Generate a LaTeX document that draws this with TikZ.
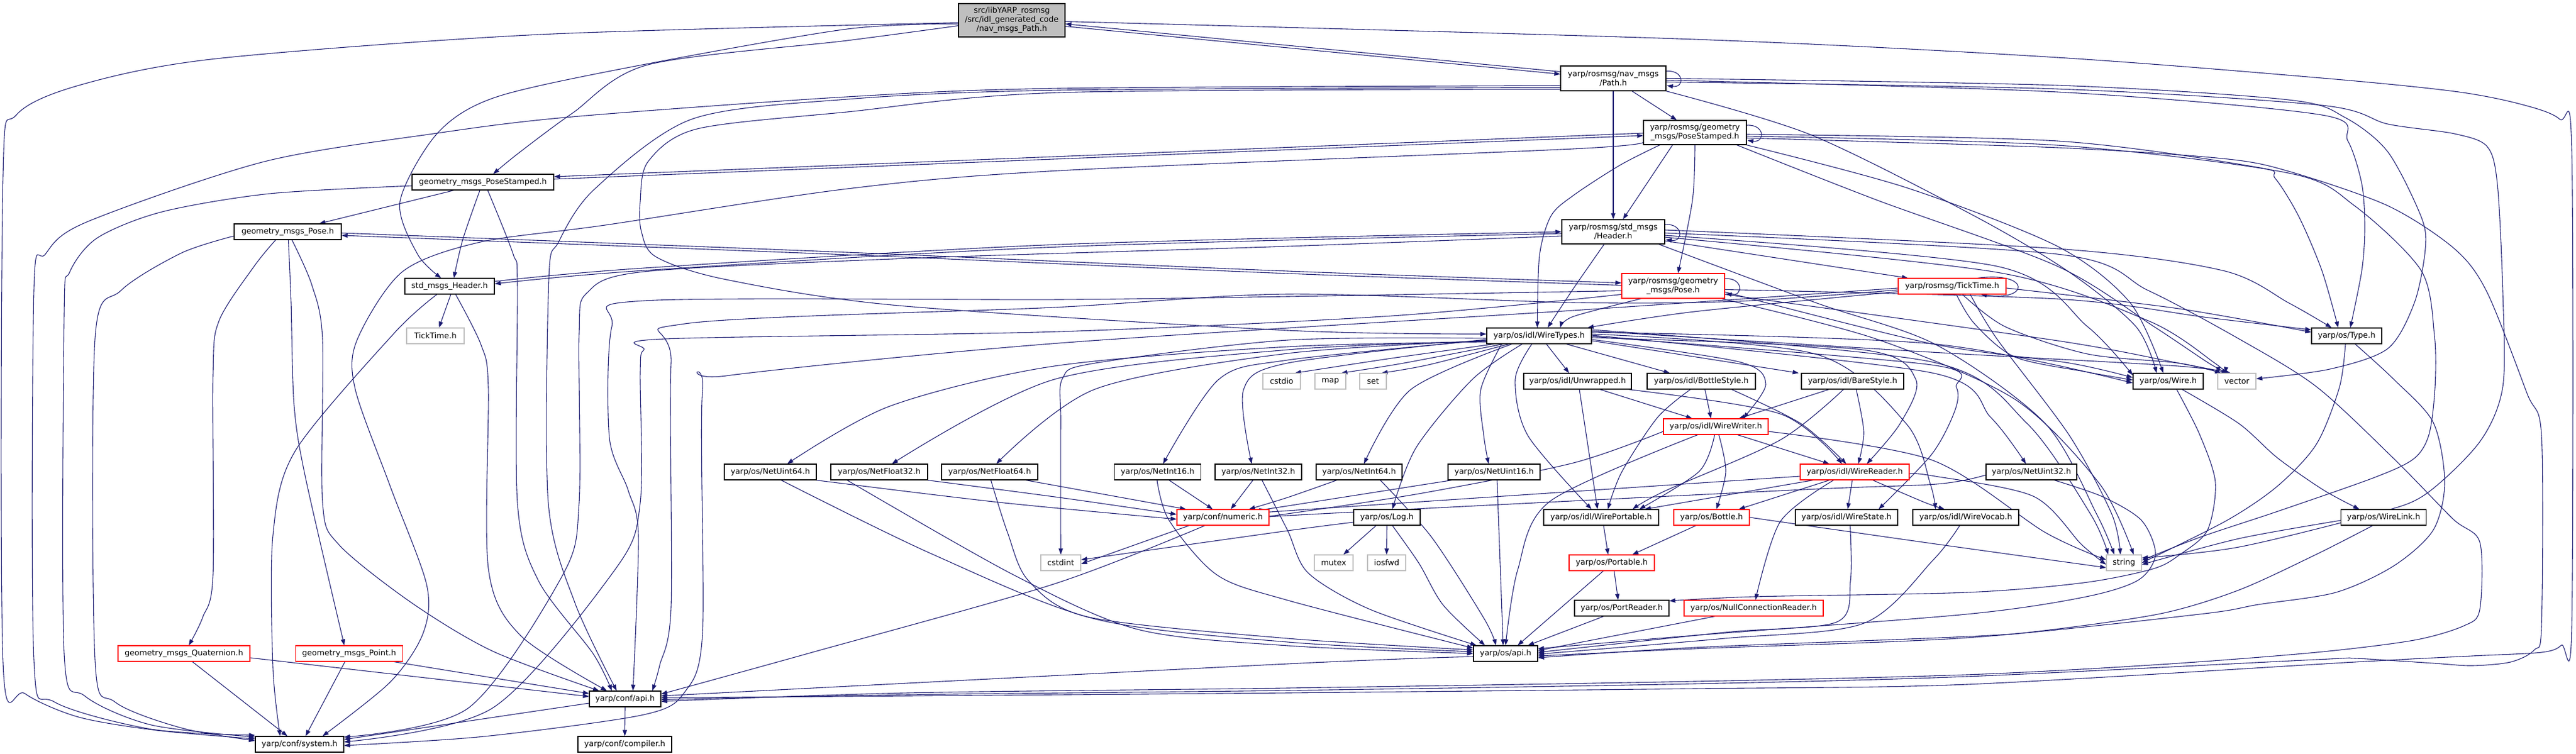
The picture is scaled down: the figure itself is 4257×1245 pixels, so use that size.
\documentclass[tikz,border=0pt]{standalone}
\usepackage{fontspec}
\newfontfamily\dv{DejaVu Sans}
\usetikzlibrary{arrows.meta,calc}
\definecolor{navy}{HTML}{191970}
\definecolor{boxgray}{HTML}{BFBFBF}
\pgfdeclarelayer{bg}
\pgfsetlayers{bg,main}
\begin{document}
\begin{tikzpicture}[x=1pt,y=-1pt,
  nbox/.style={draw=black, line width=1.1pt, fill=white, inner sep=0pt, align=center,
    minimum height=26pt, font=\dv\fontsize{13pt}{15pt}\selectfont},
  gbox/.style={nbox, draw=boxgray},
  rbox/.style={nbox, draw=red},
  rootbox/.style={nbox, fill=boxgray},
  lnk/.style={draw=navy, line width=1.1pt, -{Triangle[length=10pt,width=7pt]}}]
\path[use as bounding box] (0,0) rectangle (4257,1245);
% ---------------- nodes
\node[rootbox, minimum width=176pt, minimum height=55pt] (root) at (1672,33.5) {src/libYARP\_rosmsg\\/src/idl\_generated\_code\\/nav\_msgs\_Path.h};
\node[nbox, minimum width=174pt, minimum height=41pt] (pth) at (2666,129.5) {yarp/rosmsg/nav\_msgs\\/Path.h};
\node[nbox, minimum width=170pt, minimum height=40pt] (rps) at (2801,219) {yarp/rosmsg/geometry\\\_msgs/PoseStamped.h};
\node[nbox, minimum width=234pt] (gps) at (798,301) {geometry\_msgs\_PoseStamped.h};
\node[nbox, minimum width=177pt] (gp) at (475.5,383) {geometry\_msgs\_Pose.h};
\node[nbox, minimum width=170pt, minimum height=40pt] (rhdr) at (2666,383) {yarp/rosmsg/std\_msgs\\/Header.h};
\node[nbox, minimum width=148pt] (shdr) at (743,473) {std\_msgs\_Header.h};
\node[rbox, minimum width=170pt, minimum height=41pt] (rpose) at (2765,472.5) {yarp/rosmsg/geometry\\\_msgs/Pose.h};
\node[rbox, minimum width=178pt] (rtt) at (3226,473) {yarp/rosmsg/TickTime.h};
\node[gbox, minimum width=95pt] (tt) at (719.5,555) {TickTime.h};
\node[nbox, minimum width=173pt] (wt) at (2543.5,555) {yarp/os/idl/WireTypes.h};
\node[nbox, minimum width=116pt] (typ) at (3878,555) {yarp/os/Type.h};
\node[gbox, minimum width=62pt] (cstdio) at (2118,630) {cstdio};
\node[gbox, minimum width=51pt] (nmap) at (2198.5,630) {map};
\node[gbox, minimum width=44pt] (nset) at (2269,630) {set};
\node[nbox, minimum width=178pt] (unw) at (2607,630) {yarp/os/idl/Unwrapped.h};
\node[nbox, minimum width=179pt] (bsty) at (2811.5,630) {yarp/os/idl/BottleStyle.h};
\node[nbox, minimum width=169pt] (bare) at (3061.5,630) {yarp/os/idl/BareStyle.h};
\node[nbox, minimum width=116pt] (wire) at (3583,630) {yarp/os/Wire.h};
\node[gbox, minimum width=63pt] (vec) at (3696.5,630) {vector};
\node[rbox, minimum width=173pt] (ww) at (2835.5,705) {yarp/os/idl/WireWriter.h};
\node[nbox, minimum width=152pt] (nu64) at (1273,780) {yarp/os/NetUint64.h};
\node[nbox, minimum width=160pt] (nf32) at (1453,780) {yarp/os/NetFloat32.h};
\node[nbox, minimum width=159pt] (nf64) at (1635.5,780) {yarp/os/NetFloat64.h};
\node[nbox, minimum width=143pt] (ni16) at (1913,780) {yarp/os/NetInt16.h};
\node[nbox, minimum width=143pt] (ni32) at (2079.5,780) {yarp/os/NetInt32.h};
\node[nbox, minimum width=142pt] (ni64) at (2246,780) {yarp/os/NetInt64.h};
\node[nbox, minimum width=152pt] (nu16) at (2469,780) {yarp/os/NetUint16.h};
\node[rbox, minimum width=180pt] (wr) at (3065,780) {yarp/os/idl/WireReader.h};
\node[nbox, minimum width=150pt] (nu32) at (3357,780) {yarp/os/NetUint32.h};
\node[rbox, minimum width=152pt] (numeric) at (2021,855) {yarp/conf/numeric.h};
\node[nbox, minimum width=110pt] (logh) at (2292,855) {yarp/os/Log.h};
\node[nbox, minimum width=190pt] (wp) at (2646,855) {yarp/os/idl/WirePortable.h};
\node[rbox, minimum width=125pt] (bottle) at (2828.5,855) {yarp/os/Bottle.h};
\node[nbox, minimum width=169pt] (ws) at (3051.5,855) {yarp/os/idl/WireState.h};
\node[nbox, minimum width=175pt] (wv) at (3248.5,855) {yarp/os/idl/WireVocab.h};
\node[nbox, minimum width=141pt] (wl) at (3939,855) {yarp/os/WireLink.h};
\node[gbox, minimum width=66pt] (cstdint) at (1753,930) {cstdint};
\node[gbox, minimum width=64pt] (mutex) at (2204,930) {mutex};
\node[gbox, minimum width=63pt] (iosfwd) at (2291.5,930) {iosfwd};
\node[rbox, minimum width=141pt] (portable) at (2663.5,930) {yarp/os/Portable.h};
\node[gbox, minimum width=58pt] (str) at (3510,930) {string};
\node[nbox, minimum width=156pt] (pr) at (2680,1005) {yarp/os/PortReader.h};
\node[rbox, minimum width=230pt] (ncr) at (2898,1005) {yarp/os/NullConnectionReader.h};
\node[rbox, minimum width=218pt] (quat) at (304,1080) {geometry\_msgs\_Quaternion.h};
\node[rbox, minimum width=177pt] (pnt) at (577,1080) {geometry\_msgs\_Point.h};
\node[nbox, minimum width=106pt] (osapi) at (2488,1080) {yarp/os/api.h};
\node[nbox, minimum width=118pt] (capi) at (1033,1155) {yarp/conf/api.h};
\node[nbox, minimum width=146pt] (sys) at (495,1230) {yarp/conf/system.h};
\node[nbox, minimum width=155pt] (comp) at (1032.5,1230) {yarp/conf/compiler.h};
% ---------------- edges
\begin{pgfonlayer}{bg}
\fill[white] (0,0) rectangle (4257,1245);
% root
\draw[lnk] plot[smooth] coordinates {($(root.west)+(0,4)$) (893,57) (357,97) (134,140) (27,190) (5,290) (5,1095) (41,1146) (130,1185) (260,1207) ($(sys.west)+(0,-9)$)};
\draw[lnk] plot[smooth] coordinates {($(root.west)+(0,6)$) (1400,48) (1062,107) (821,160) (723,220) (661,333) (690,420) ($(shdr.north)+(-14,0)$)};
\draw[lnk] plot[smooth] coordinates {($(root.west)+(0,9)$) (1400,67) (1071,107) (946,187) (857,253) ($(gps.north)+(17,0)$)};
\draw[lnk] ($(root.east)+(0,10)$) -- ($(pth.west)+(0,-7)$);
\draw[lnk] ($(pth.west)+(0,-11)$) -- ($(root.east)+(0,6)$);
\draw[lnk] plot[smooth] coordinates {($(root.east)+(0,2)$) (2800,65) (3400,95) (3837,129) (4056,151) (4165,172) (4230,197) (4250,250) (4250,1034) (4233,1066) (4200,1078) (4085,1084) (3892,1094) (3250,1131) (2800,1138) (2128,1145) (1500,1150) ($(capi.east)+(0,-2)$)};
% gps
\draw[lnk] ($(gps.east)+(0,-5)$) -- ($(rps.west)+(0,5)$);
\draw[lnk] ($(rps.west)+(0,1)$) -- ($(gps.east)+(0,-9)$);
\draw[lnk] ($(gps.south)+(-48,0)$) -- ($(gp.north)+(52,0)$);
\draw[lnk] plot[smooth] coordinates {($(gps.south)+(-5,0)$) (765,395) ($(shdr.north)+(7,0)$)};
\draw[lnk] plot[smooth] coordinates {($(gps.west)+(0,6)$) (446,320) (268,350) (161,393) (115,450) (106,520) (106,1080) (140,1150) (250,1198) ($(sys.west)+(0,-12)$)};
\draw[lnk] plot[smooth] coordinates {($(gps.south)+(8,0)$) (848,420) (855,470) (855,830) (890,960) (980,1080) ($(capi.north)+(-22,0)$)};
% gp
\draw[lnk] plot[smooth] coordinates {($(gp.west)+(0,7)$) (300,418) (200,480) (157,560) (157,1090) (190,1160) (300,1203) ($(sys.west)+(0,-6)$)};
\draw[lnk] plot[smooth] coordinates {($(gp.south)+(-20,0)$) (420,440) (362,530) (352,620) (352,950) (335,1020) ($(quat.north)+(8,0)$)};
\draw[lnk] plot[smooth] coordinates {($(gp.south)+(1,0)$) (481,500) (486,670) (505,790) ($(pnt.north)+(-8,0)$)};
\draw[lnk] plot[smooth] coordinates {($(gp.south)+(7,0)$) (515,470) (533,560) (533,830) (560,900) (680,996) (814,1076) ($(capi.north)+(-43,0)$)};
\draw[lnk] plot[smooth] coordinates {($(gp.east)+(0,2)$) (1400,417) (2128,448) ($(rpose.west)+(0,-5)$)};
\draw[lnk] plot[smooth] coordinates {($(rpose.west)+(0,-1)$) (2128,452) (1400,421) ($(gp.east)+(0,6)$)};
% shdr
\draw[lnk] plot[smooth] coordinates {($(shdr.east)+(0,-8)$) (1064,443) (1750,404) (rhdr.west)};
\draw[lnk] plot[smooth] coordinates {($(rhdr.west)+(0,3)$) (1750,408) (1064,447) ($(shdr.east)+(0,-4)$)};
\draw[lnk] ($(shdr.south)+(2,0)$) -- ($(tt.north)+(6,0)$);
\draw[lnk] plot[smooth] coordinates {($(shdr.south)+(-21,0)$) (651,551) (488,745) (451,885) (451,1103) ($(sys.north)+(-32,0)$)};
\draw[lnk] plot[smooth] coordinates {($(shdr.south)+(10,0)$) (795,570) (807,640) (807,939) (860,1050) ($(capi.north)+(-30,0)$)};
% quat, point, capi
\draw[lnk] ($(quat.south)+(14,0)$) -- ($(sys.north)+(-20,0)$);
\draw[lnk] ($(quat.east)+(0,7)$) -- ($(capi.west)+(0,-4)$);
\draw[lnk] ($(pnt.south)+(-7,0)$) -- ($(sys.north)+(10,0)$);
\draw[lnk] ($(pnt.south)+(74,0)$) -- ($(capi.west)+(0,-9)$);
\draw[lnk] ($(capi.west)+(0,7)$) -- ($(sys.east)+(0,-8)$);
\draw[lnk] (capi.south) -- (comp.north);
% path
\draw[lnk] ($(pth.east)+(0,-12)$) .. controls +(30,-2) and +(30,4) .. ($(pth.east)+(1,12)$);
\draw[lnk] (pth.south) -- (rhdr.north);
\draw[lnk] ($(pth.south)+(31,0)$) -- ($(rps.north)+(-30,0)$);
\draw[lnk] plot[smooth] coordinates {($(pth.west)+(0,12)$) (1750,146) (1400,160) (946,193) (723,220) (437,267) (143,367) (75,420) (56,480) (56,1090) (90,1160) (250,1205) ($(sys.west)+(0,-15)$)};
\draw[lnk] plot[smooth] coordinates {($(pth.west)+(0,15)$) (1750,149) (1400,164) (1143,197) (982,313) (923,400) (907,460) (906,830) (950,996) ($(capi.north)+(-14,0)$)};
\draw[lnk] plot[smooth] coordinates {($(pth.west)+(0,18)$) (1750,153) (1400,185) (1152,213) (1071,267) (1058,333) (1060,383) (1085,425) (1200,462) (1485,505) (2128,546) ($(wt.west)+(0,-3)$)};
\draw[lnk] plot[smooth] coordinates {($(pth.east)+(0,3)$) (3400,152) (3837,190) (3880,233) (3903,304) (3908,376) (3903,447) ($(typ.north)+(6,0)$)};
\draw[lnk] plot[smooth] coordinates {(pth.east) (3400,141) (3782,165) (3875,194) (3946,251) (4001,358) (4008,411) (3990,500) (3946,576) (3850,610) ($(vec.east)+(0,-4)$)};
\draw[lnk] plot[smooth] coordinates {($(pth.east)+(0,6)$) (3400,147) (3837,174) (3946,205) (4056,221) (4110,242) (4127,304) (4136,483) (4136,639) (4098,730) (4008,817) (3924,849) (3700,904) ($(str.east)+(0,-8)$)};
\draw[lnk] plot[smooth] coordinates {(pth.south east) (2993,223) (3263,357) (3420,450) (3530,540) ($(wire.north)+(-19,0)$)};
% rps
\draw[lnk] ($(rps.east)+(0,-12)$) .. controls +(30,-2) and +(30,4) .. ($(rps.east)+(1,13)$);
\draw[lnk] ($(rps.south)+(-37,0)$) -- ($(rhdr.north)+(16,0)$);
\draw[lnk] plot[smooth] coordinates {(rps.south) (2797,330) ($(rpose.north)+(8,0)$)};
\draw[lnk] plot[smooth] coordinates {($(rps.south)+(-58,0)$) (2677,273) (2600,323) (2563,357) (2544,423) ($(wt.north)+(-3,0)$)};
\draw[lnk] plot[smooth] coordinates {($(rps.west)+(0,15)$) (2600,246) (1750,282) (1400,312) (1000,372) (794,400) (665,449) (590,562) (587,643) (645,804) (705,966) (699,1047) (645,1127) ($(sys.north)+(38,0)$)};
\draw[lnk] plot[smooth] coordinates {($(rps.east)+(0,3)$) (3400,233) (3728,276) (3760,295) (3799,358) (3837,447) ($(typ.north)+(-14,0)$)};
\draw[lnk] plot[smooth] coordinates {($(rps.east)+(0,6)$) (3400,240) (3782,286) (3891,340) (4001,447) (4023,554) (4024,640) (4014,718) (3989,758) (3924,789) (3764,845) (3635,888) ($(str.east)+(0,-4)$)};
\draw[lnk] plot[smooth] coordinates {($(rps.east)+(0,9)$) (3400,244) (3673,262) (3782,283) (3946,340) (4056,411) (4110,483) (4176,650) (4200,720) (4200,1034) (4188,1074) (4149,1094) (4085,1100) (4021,1096) (3892,1088) (3828,1090) (3250,1118) (2800,1130) (2128,1141) (1500,1148) ($(capi.east)+(0,1)$)};
\draw[lnk] plot[smooth] coordinates {($(rps.south)+(69,0)$) (3100,330) (3400,440) (3560,540) (3650,600) ($(vec.north)+(-15,0)$)};
\draw[lnk] plot[smooth] coordinates {($(rps.south)+(85,0)$) (3150,310) (3400,407) (3520,500) ($(wire.north)+(-8,0)$)};
% rhdr
\draw[lnk] ($(rhdr.east)+(0,-12)$) .. controls +(30,-2) and +(30,4) .. ($(rhdr.east)+(1,13)$);
\draw[lnk] ($(rhdr.east)+(0,15)$) -- ($(rtt.north)+(-73,0)$);
\draw[lnk] plot[smooth] coordinates {($(rhdr.south)+(-15,0)$) (2600,477) ($(wt.north)+(14,0)$)};
\draw[lnk] plot[smooth] coordinates {($(rhdr.west)+(0,7)$) (2128,407) (1500,427) (1064,449) (970,484) (957,551) (957,831) (930,950) (774,1170) ($(sys.east)+(0,-12)$)};
\draw[lnk] plot[smooth] coordinates {($(rhdr.east)+(0,2)$) (3400,420) (3550,480) (3700,560) (3828,639) (3956,758) (4053,857) (4098,896) (4098,1007) (4072,1034) (3989,1058) (3828,1078) (3571,1098) (3250,1115) (2800,1126) (2128,1137) (1500,1145) ($(capi.east)+(0,4)$)};
\draw[lnk] plot[smooth] coordinates {($(rhdr.east)+(0,-3)$) (3400,411) (3673,447) (3783,501) ($(typ.north)+(-25,0)$)};
\draw[lnk] plot[smooth] coordinates {($(rhdr.east)+(0,6)$) (3300,440) (3450,540) ($(wire.west)+(0,-10)$)};
\draw[lnk] plot[smooth] coordinates {($(rhdr.east)+(0,9)$) (3300,450) (3550,530) (3660,600) ($(vec.north)+(-20,0)$)};
\draw[lnk] plot[smooth] coordinates {($(rhdr.south)+(75,0)$) (3000,500) (3200,570) (3380,700) (3465,850) ($(str.north)+(-16,0)$)};
% rpose
\draw[lnk] ($(rpose.east)+(0,-12)$) .. controls +(30,-2) and +(30,4) .. ($(rpose.east)+(1,13)$);
\draw[lnk] plot[smooth] coordinates {($(rpose.south)+(-53,0)$) (2600,523) ($(wt.north)+(35,0)$)};
\draw[lnk] plot[smooth] coordinates {($(rpose.west)+(0,8)$) (2128,490) (1750,495) (1064,497) (1011,540) (1007,723) (1038,810) (1055,885) ($(capi.north)+(13,0)$)};
\draw[lnk] plot[smooth] coordinates {($(rpose.west)+(0,14)$) (2300,522) (1750,548) (1100,560) (1064,578) (1058,615) (1058,831) (1018,939) (814,1170) ($(sys.east)+(0,-4)$)};
\draw[lnk] plot[smooth] coordinates {($(rpose.east)+(0,6)$) (3400,494) (3650,525) ($(typ.west)+(0,-10)$)};
\draw[lnk] plot[smooth] coordinates {($(rpose.east)+(0,10)$) (3192,568) (3420,600) ($(wire.west)+(0,-6)$)};
\draw[lnk] plot[smooth] coordinates {($(rpose.east)+(0,14)$) (3400,563) (3600,600) ($(vec.north)+(-10,0)$)};
\draw[lnk] plot[smooth] coordinates {($(rpose.south)+(80,0)$) (3100,560) (3330,660) (3470,800) ($(str.north)+(16,0)$)};
% rtt
\draw[lnk] ($(rtt.north)+(42,0)$) .. controls (3355,448) and (3355,498) .. ($(rtt.south)+(47,0)$);
\draw[lnk] plot[smooth] coordinates {($(rtt.west)+(0,9)$) (2800,515) ($(wt.north)+(80,0)$)};
\draw[lnk] plot[smooth] coordinates {($(rtt.west)+(0,3)$) (2600,513) (1750,567) (1200,621) (1161,645) (1161,1046) (1132,1143) (1064,1181) (800,1217) ($(sys.east)+(0,2)$)};
\draw[lnk] plot[smooth] coordinates {($(rtt.west)+(0,6)$) (2870,498) (2600,500) (2128,486) (1742,508) (1132,535) (1109,600) (1109,1003) (1090,1100) ($(capi.north)+(45,0)$)};
\draw[lnk] plot[smooth] coordinates {($(rtt.east)+(0,3)$) (3600,510) ($(typ.west)+(0,-6)$)};
\draw[lnk] plot[smooth] coordinates {($(rtt.south)+(7,0)$) (3263,535) (3330,590) (3450,615) ($(wire.west)+(0,-2)$)};
\draw[lnk] plot[smooth] coordinates {($(rtt.south)+(17,0)$) (3314,540) (3450,585) (3600,600) ($(vec.north)+(-26,0)$)};
\draw[lnk] plot[smooth] coordinates {($(rtt.south)+(30,0)$) (3300,560) (3420,720) (3490,850) ($(str.north)+(-6,0)$)};
% WireTypes
\draw[lnk] plot[smooth] coordinates {($(wt.south)+(-75,0)$) (2300,592) ($(cstdio.north)+(22,0)$)};
\draw[lnk] plot[smooth] coordinates {($(wt.south)+(-60,0)$) (2320,600) ($(nmap.north)+(18,0)$)};
\draw[lnk] plot[smooth] coordinates {($(wt.south)+(-50,0)$) (2360,603) ($(nset.north)+(14,0)$)};
\draw[lnk] ($(wt.south)+(12,0)$) -- ($(unw.north)+(-14,0)$);
\draw[lnk] ($(wt.south)+(45,0)$) -- ($(bsty.north)+(-52,0)$);
\draw[lnk] ($(wt.east)+(0,8)$) -- ($(bare.north)+(-89,0)$);
\draw[lnk] plot[smooth] coordinates {($(wt.east)+(0,6)$) (2874,598) (2918,635) ($(ww.north)+(45,0)$)};
\draw[lnk] plot[smooth] coordinates {($(wt.east)+(0,3)$) (3078,578) (3166,627) (3140,700) ($(wr.north)+(20,0)$)};
\draw[lnk] plot[smooth] coordinates {($(wt.east)+(0,1)$) (3192,603) (3233,640) (3230,680) (3192,751) ($(ws.north)+(53,0)$)};
\draw[lnk] plot[smooth] coordinates {($(wt.east)+(0,-1)$) (3192,616) (3290,690) ($(nu32.north)+(-9,0)$)};
\draw[lnk] plot[smooth] coordinates {($(wt.east)+(0,-3)$) (3000,585) (3150,700) (3190,800) ($(wv.north)+(-50,0)$)};
\draw[lnk] plot[smooth] coordinates {($(wt.south)+(-45,0)$) (2331,644) ($(ni64.north)+(8,0)$)};
\draw[lnk] plot[smooth] coordinates {($(wt.south)+(-62,0)$) (2447,644) (2452,720) ($(nu16.north)+(-9,0)$)};
\draw[lnk] plot[smooth] coordinates {($(wt.south)+(-28,0)$) (2433,627) (2340,740) ($(logh.north)+(9,0)$)};
\draw[lnk] plot[smooth] coordinates {($(wt.south)+(-12,0)$) (2504,627) (2525,720) ($(wp.north)+(-16,0)$)};
\draw[lnk] plot[smooth] coordinates {($(wt.west)+(0,10)$) (2128,573) (1742,605) (1471,671) ($(nu64.north)+(28,0)$)};
\draw[lnk] plot[smooth] coordinates {($(wt.west)+(0,9)$) (2128,578) (1742,627) ($(nf32.north)+(21,0)$)};
\draw[lnk] plot[smooth] coordinates {($(wt.west)+(0,8)$) (2128,584) (1810,643) ($(nf64.north)+(11,0)$)};
\draw[lnk] plot[smooth] coordinates {($(wt.west)+(0,7)$) (2128,595) (2014,627) ($(ni16.north)+(9,0)$)};
\draw[lnk] plot[smooth] coordinates {($(wt.west)+(0,6)$) (2128,600) (2055,644) ($(ni32.north)+(-11,0)$)};
\draw[lnk] plot[smooth] coordinates {($(wt.west)+(0,4)$) (2128,562) (1810,600) (1756,625) (1753,700) (cstdint.north)};
\draw[lnk] plot[smooth] coordinates {($(wt.east)+(0,-6)$) (3192,568) ($(wire.west)+(0,3)$)};
\draw[lnk] plot[smooth] coordinates {($(wt.east)+(0,-8)$) (3192,582) (3600,605) ($(vec.north)+(-30,0)$)};
\draw[lnk] plot[smooth] coordinates {($(wt.east)+(0,-10)$) (3192,598) (3350,700) (3455,850) ($(str.north)+(-26,0)$)};
% idl cluster
\draw[lnk] ($(unw.south)+(37,0)$) -- ($(ww.north)+(-39,0)$);
\draw[lnk] ($(unw.south)+(3,0)$) -- ($(wp.north)+(-6,0)$);
\draw[lnk] plot[smooth] coordinates {($(unw.south)+(84,0)$) (2942,684) ($(wr.north)+(-21,0)$)};
\draw[lnk] ($(bsty.south)+(6,0)$) -- ($(ww.north)+(-8,0)$);
\draw[lnk] plot[smooth] coordinates {($(bsty.south)+(-18,0)$) (2739,690) (2680,780) ($(wp.north)+(11,0)$)};
\draw[lnk] plot[smooth] coordinates {($(bsty.south)+(50,0)$) (2976,700) ($(wr.north)+(-14,0)$)};
\draw[lnk] ($(bare.south)+(-39,0)$) -- ($(ww.north)+(38,0)$);
\draw[lnk] plot[smooth] coordinates {($(bare.south)+(6,0)$) (3080,714) ($(wr.north)+(6,0)$)};
\draw[lnk] plot[smooth] coordinates {($(bare.south)+(-15,0)$) (2942,727) (2750,812) ($(wp.north)+(52,0)$)};
\draw[lnk] ($(ww.south)+(36,0)$) -- ($(wr.north)+(-42,0)$);
\draw[lnk] plot[smooth] coordinates {($(ww.south)+(-2,0)$) (2808,779) ($(wp.north)+(63,0)$)};
\draw[lnk] plot[smooth] coordinates {($(ww.south)+(5,0)$) (2852,779) ($(bottle.north)+(8,0)$)};
\draw[lnk] plot[smooth] coordinates {($(ww.south)+(-30,0)$) (2562,828) (2508,942) (osapi.north)};
\draw[lnk] plot[smooth] coordinates {($(ww.west)+(0,8)$) (2600,765) (2350,815) (2128,849) ($(numeric.east)+(0,-3)$)};
\draw[lnk] plot[smooth] coordinates {($(ww.east)+(0,8)$) (3192,760) (3380,880) ($(str.west)+(0,-5)$)};
\draw[lnk] ($(wr.south)+(-69,0)$) -- ($(wp.north)+(72,0)$);
\draw[lnk] ($(wr.south)+(-42,0)$) -- ($(bottle.north)+(45,0)$);
\draw[lnk] ($(wr.south)+(-4,0)$) -- ($(ws.north)+(2,0)$);
\draw[lnk] plot[smooth] coordinates {($(wr.south)+(30,0)$) (3180,830) ($(wv.north)+(-35,0)$)};
\draw[lnk] plot[smooth] coordinates {($(wr.south)+(-35,0)$) (2942,862) ($(ncr.north)+(3,0)$)};
\draw[lnk] plot[smooth] coordinates {($(wr.west)+(0,7)$) (2128,844) ($(numeric.east)+(0,-8)$)};
\draw[lnk] plot[smooth] coordinates {($(wr.east)+(0,3)$) (3192,786) (3360,820) (3440,900) ($(str.west)+(0,3)$)};
\draw[lnk] ($(wp.south)+(4,0)$) -- ($(portable.north)+(-6,0)$);
\draw[lnk] ($(bottle.south)+(-26,0)$) -- ($(portable.north)+(34,0)$);
\draw[lnk] plot[smooth] coordinates {(bottle.east) (3192,898) ($(str.west)+(0,8)$)};
\draw[lnk] ($(portable.south)+(4,0)$) -- ($(pr.north)+(-6,0)$);
\draw[lnk] ($(portable.south)+(-14,0)$) -- ($(osapi.north)+(20,0)$);
\draw[lnk] ($(pr.south)+(-30,0)$) -- ($(osapi.north)+(37,0)$);
\draw[lnk] ($(ncr.south)+(-64,0)$) -- ($(osapi.east)+(0,-5)$);
\draw[lnk] plot[smooth] coordinates {($(ws.south)+(6,0)$) (3058,960) (3035,1028) (2850,1045) ($(osapi.east)+(0,-2)$)};
\draw[lnk] plot[smooth] coordinates {($(wv.south)+(-10,0)$) (3195,925) (3080,1030) (2850,1055) ($(osapi.east)+(0,1)$)};
\draw[lnk] ($(logh.south)+(-18,0)$) -- ($(mutex.north)+(16,0)$);
\draw[lnk] (logh.south) -- (iosfwd.north);
\draw[lnk] plot[smooth] coordinates {($(logh.south)+(9,0)$) (2345,931) (2385,1000) ($(osapi.north)+(-34,0)$)};
\draw[lnk] plot[smooth] coordinates {($(logh.west)+(0,8)$) (2128,877) ($(cstdint.east)+(0,-5)$)};
\draw[lnk] ($(numeric.south)+(-56,0)$) -- ($(cstdint.east)+(0,2)$);
\draw[lnk] plot[smooth] coordinates {($(numeric.south)+(-30,0)$) (1742,965) (1335,1080) ($(capi.east)+(0,-8)$)};
\draw[lnk] plot[smooth] coordinates {($(osapi.west)+(0,5)$) (2128,1097) ($(capi.east)+(0,-5)$)};
% Net* headers
\draw[lnk] plot[smooth] coordinates {($(nu64.south)+(76,0)$) (1650,830) ($(numeric.west)+(0,3)$)};
\draw[lnk] plot[smooth] coordinates {($(nf32.south)+(80,0)$) (1750,822) ($(numeric.west)+(0,-5)$)};
\draw[lnk] ($(nf64.south)+(60,0)$) -- ($(numeric.north)+(-61,0)$);
\draw[lnk] ($(ni16.south)+(19,0)$) -- ($(numeric.north)+(-17,0)$);
\draw[lnk] ($(ni32.south)+(-9,0)$) -- ($(numeric.north)+(13,0)$);
\draw[lnk] plot[smooth] coordinates {($(ni64.south)+(-37,0)$) (2128,822) ($(numeric.north)+(43,0)$)};
\draw[lnk] plot[smooth] coordinates {($(nu16.south)+(-70,0)$) (2128,836) ($(numeric.north)+(70,0)$)};
\draw[lnk] plot[smooth] coordinates {($(nu32.west)+(0,5)$) (3200,800) (2960,810) (2128,852) ($(numeric.east)+(0,4)$)};
\draw[lnk] plot[smooth] coordinates {($(nu64.south)+(18,0)$) (1539,915) (1810,1023) (2128,1061) ($(osapi.west)+(0,-3)$)};
\draw[lnk] plot[smooth] coordinates {($(nf32.south)+(-53,0)$) (1675,950) (1880,1040) (2128,1067) (osapi.west)};
\draw[lnk] plot[smooth] coordinates {($(nf64.south)+(2,0)$) (1665,880) (1700,960) (1800,1020) (2128,1055) ($(osapi.west)+(0,-6)$)};
\draw[lnk] plot[smooth] coordinates {($(ni16.south)+(-1,0)$) (1932,860) (2011,950) (2128,992) ($(osapi.west)+(0,-9)$)};
\draw[lnk] plot[smooth] coordinates {($(ni32.south)+(6,0)$) (2128,877) (2162,947) (2264,1007) ($(osapi.north)+(-48,0)$)};
\draw[lnk] plot[smooth] coordinates {($(ni64.south)+(35,0)$) (2366,888) (2453,1023) ($(osapi.north)+(-16,0)$)};
\draw[lnk] ($(nu16.south)+(5,0)$) -- ($(osapi.north)+(-4,0)$);
\draw[lnk] plot[smooth] coordinates {($(nu32.south)+(38,0)$) (3475,821) (3539,860) (3562,916) (3533,959) (3443,987) (3250,1015) (2800,1050) ($(osapi.east)+(0,-8)$)};
% Type, Wire, WireLink
\draw[lnk] plot[smooth] coordinates {($(typ.south)+(-2,0)$) (3866,640) (3828,734) (3764,803) (3680,860) (str.east)};
\draw[lnk] plot[smooth] coordinates {($(typ.south)+(14,0)$) (3956,627) (4021,698) (4040,797) (4021,876) (3956,935) (3860,979) (3732,999) (3635,1015) (3250,1054) (2800,1072) ($(osapi.east)+(0,4)$)};
\draw[lnk] plot[smooth] coordinates {($(wire.south)+(14,0)$) (3635,718) (3661,797) (3648,876) (3603,916) (3558,940) (3443,963) (3250,979) (2900,986) ($(pr.east)+(0,-12)$)};
\draw[lnk] plot[smooth] coordinates {($(wire.south)+(23,0)$) (3700,700) (3764,757) (3840,810) ($(wl.north)+(-40,0)$)};
\draw[lnk] plot[smooth] coordinates {($(wl.west)+(0,5)$) (3700,890) ($(str.east)+(0,3)$)};
\draw[lnk] plot[smooth] coordinates {($(wl.south)+(-18,0)$) (3828,916) (3700,975) (3571,1014) (3378,1042) (3250,1052) (2800,1070) ($(osapi.east)+(0,7)$)};
\end{pgfonlayer}
\end{tikzpicture}
\end{document}
